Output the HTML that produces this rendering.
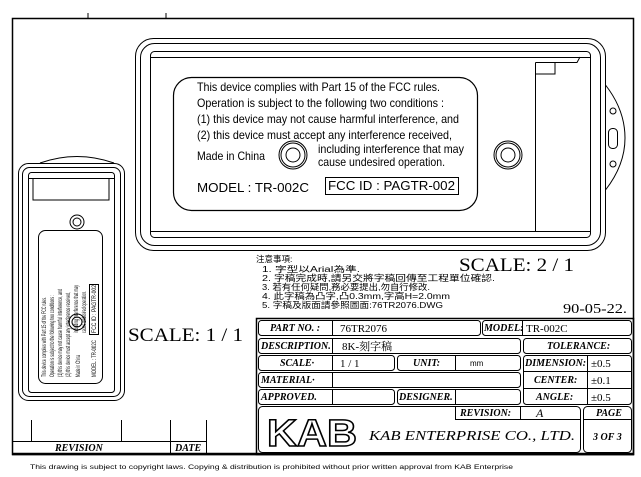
<!DOCTYPE html>
<html><head><meta charset="utf-8"><style>
html,body{margin:0;padding:0;background:#fff;}
svg{display:block;}
text{font-family:"Liberation Sans","Noto Sans CJK TC",sans-serif;fill:#000;}
.s{font-family:"Liberation Serif","Noto Serif CJK SC",serif;}
.i{font-family:"Liberation Serif",serif;font-style:italic;font-weight:bold;font-size:10px;}
</style></head><body>
<svg width="641" height="477" viewBox="0 0 641 477" xmlns="http://www.w3.org/2000/svg" fill="none" stroke="#000" stroke-width="1">
<rect x="12.5" y="18.5" width="621" height="436" stroke-width="1.5"/>
<line x1="12" y1="454" x2="634" y2="454" stroke-width="2.5"/>
<line x1="88" y1="13" x2="88" y2="18"/><line x1="166" y1="13" x2="166" y2="18"/>

<rect x="135.5" y="38.5" width="470" height="212" rx="18"/>
<rect x="140.5" y="43.5" width="460" height="202" rx="14"/>
<rect x="150.5" y="51.5" width="440" height="186" rx="4"/>
<line x1="150" y1="57.5" x2="590" y2="57.5"/>
<line x1="150" y1="231.5" x2="590" y2="231.5"/>
<path d="M535.5 62.5 H577 L580 57 M535.5 62.5 V232 M555 62.5 V74 H535" />
<path d="M605.5 85 Q625 110 625 138 Q625 165 605.5 190"/>
<circle cx="613" cy="111" r="3"/><rect x="608.5" y="128.5" width="9" height="20" rx="4"/><circle cx="613" cy="164" r="3"/>
<rect x="173.5" y="77.5" width="304" height="133" rx="18" stroke-width="1.2"/>
<circle cx="293" cy="155" r="14"/><circle cx="293" cy="155" r="12"/><circle cx="293" cy="155" r="7"/>
<circle cx="508" cy="155" r="14"/><circle cx="508" cy="155" r="12"/><circle cx="508" cy="155" r="7"/>
<g stroke="none" font-size="12">
<text x="197" y="91" textLength="243" lengthAdjust="spacingAndGlyphs">This device complies with Part 15 of the FCC rules.</text>
<text x="197" y="107" textLength="247" lengthAdjust="spacingAndGlyphs">Operation is subject to the following two conditions :</text>
<text x="197" y="123" textLength="262" lengthAdjust="spacingAndGlyphs">(1) this device may not cause harmful interference, and</text>
<text x="197" y="139" textLength="255" lengthAdjust="spacingAndGlyphs">(2) this device must accept any interference received,</text>
<text x="318" y="153" textLength="146" lengthAdjust="spacingAndGlyphs">including interference that may</text>
<text x="318" y="166" textLength="127" lengthAdjust="spacingAndGlyphs">cause undesired operation.</text>
<text x="197" y="160" textLength="68" lengthAdjust="spacingAndGlyphs">Made in China</text>
<text x="197" y="192" font-size="13" textLength="112" lengthAdjust="spacingAndGlyphs">MODEL : TR-002C</text>
<text x="328" y="190" font-size="13" textLength="127" lengthAdjust="spacingAndGlyphs">FCC ID : PAGTR-002</text>
</g>
<rect x="325.5" y="177.5" width="133" height="17"/>

<path d="M40 163 Q77 150 114 163" />
<rect x="18.5" y="163.5" width="106" height="237" rx="10"/>
<rect x="22.5" y="167.5" width="98" height="229" rx="7"/>
<rect x="28.5" y="172.5" width="86" height="220" rx="3"/>
<path d="M28 178.5 H114 M33 178.5 V200 H109 V178.5"/>
<rect x="38.5" y="230.5" width="64" height="153" rx="7"/>
<circle cx="77" cy="222" r="7"/><circle cx="77" cy="222" r="4"/>
<circle cx="77" cy="322" r="8"/><circle cx="77" cy="322" r="5"/>
<g stroke="none" font-size="6">
<g transform="translate(46,377) rotate(-90)"><text x="0" y="0" textLength="80" lengthAdjust="spacingAndGlyphs">This device complies with Part 15 of the FCC rules.</text></g>
<g transform="translate(54,377) rotate(-90)"><text x="0" y="0" textLength="82" lengthAdjust="spacingAndGlyphs">Operation is subject to the following two conditions :</text></g>
<g transform="translate(62,377) rotate(-90)"><text x="0" y="0" textLength="88" lengthAdjust="spacingAndGlyphs">(1) this device may not cause harmful interference, and</text></g>
<g transform="translate(70,377) rotate(-90)"><text x="0" y="0" textLength="85" lengthAdjust="spacingAndGlyphs">(2) this device must accept any interference received,</text></g>
<g transform="translate(80,377) rotate(-90)"><text x="0" y="0" textLength="22" lengthAdjust="spacingAndGlyphs">Made in China</text></g>
<g transform="translate(78,333) rotate(-90)"><text x="0" y="0" textLength="48" lengthAdjust="spacingAndGlyphs">including interference that may</text></g>
<g transform="translate(86,333) rotate(-90)"><text x="0" y="0" textLength="42" lengthAdjust="spacingAndGlyphs">cause undesired operation.</text></g>
<g transform="translate(96,377) rotate(-90)"><text x="0" y="0" textLength="37" lengthAdjust="spacingAndGlyphs">MODEL : TR-002C</text></g>
<g transform="translate(96,333) rotate(-90)"><text x="0" y="0" textLength="48" lengthAdjust="spacingAndGlyphs">FCC ID : PAGTR-002</text></g>
</g>
<rect x="89.5" y="284.5" width="9" height="50"/>
<line x1="31.5" y1="420" x2="31.5" y2="441"/><line x1="121.5" y1="420" x2="121.5" y2="441"/>
<line x1="170.5" y1="420" x2="170.5" y2="454"/><line x1="206.5" y1="420" x2="206.5" y2="454"/>
<line x1="12" y1="441.5" x2="206" y2="441.5"/>
<g stroke="none">
<text class="i" x="55" y="451">REVISION</text>
<text class="i" x="175" y="451">DATE</text>
<text class="s" x="128" y="341" font-size="19" textLength="115" lengthAdjust="spacingAndGlyphs">SCALE: 1 / 1</text>
<text class="s" x="459" y="271" font-size="19" textLength="115" lengthAdjust="spacingAndGlyphs">SCALE: 2 / 1</text>
<text class="s" x="563" y="313" font-size="14" textLength="64" lengthAdjust="spacingAndGlyphs">90-05-22.</text>
<g font-size="8.5">
<text x="256" y="262">注意事項:</text>
<text x="262" y="272" font-size="8" textLength="98" lengthAdjust="spacingAndGlyphs">1.   字型以Arial為準.</text>
<text x="262" y="281" textLength="233" lengthAdjust="spacingAndGlyphs">2.   字稿完成時,請另交將字稿回傳至工程單位確認.</text>
<text x="262" y="290" textLength="168" lengthAdjust="spacingAndGlyphs">3.   若有任何疑問,務必要提出,勿自行修改.</text>
<text x="262" y="299" textLength="188" lengthAdjust="spacingAndGlyphs">4.   此字稿為凸字,凸0.3mm,字高H=2.0mm</text>
<text x="262" y="308" textLength="181" lengthAdjust="spacingAndGlyphs">5.   字稿及版面請參照圖面:76TR2076.DWG</text>
</g>
</g>

<rect x="256.5" y="318.5" width="377" height="136" stroke-width="1.5"/>
<g stroke-width="1">
<rect x="258.5" y="320.5" width="222" height="15" rx="3"/><line x1="332.5" y1="320" x2="332.5" y2="336"/>
<rect x="482.5" y="320.5" width="149" height="15" rx="3"/><line x1="522.5" y1="320" x2="522.5" y2="336"/>
<rect x="258.5" y="338.5" width="262" height="15" rx="3"/><line x1="332.5" y1="338" x2="332.5" y2="354"/>
<rect x="258.5" y="355.5" width="136" height="15" rx="3"/><line x1="332.5" y1="355" x2="332.5" y2="371"/>
<rect x="397.5" y="355.5" width="123" height="15" rx="3"/><line x1="455.5" y1="355" x2="455.5" y2="371"/>
<rect x="258.5" y="372.5" width="262" height="15" rx="3"/><line x1="332.5" y1="372" x2="332.5" y2="388"/>
<rect x="258.5" y="389.5" width="136" height="15" rx="3"/><line x1="332.5" y1="389" x2="332.5" y2="405"/>
<rect x="397.5" y="389.5" width="123" height="15" rx="3"/><line x1="455.5" y1="389" x2="455.5" y2="405"/>
<rect x="523.5" y="338.5" width="108" height="15" rx="3"/>
<rect x="523.5" y="355.5" width="108" height="49" rx="3"/>
<line x1="587.5" y1="355" x2="587.5" y2="405"/>
<line x1="523" y1="371.5" x2="632" y2="371.5"/><line x1="523" y1="388.5" x2="632" y2="388.5"/>
<rect x="258.5" y="406.5" width="322" height="46" rx="4"/>
<path d="M455.5 406 V419.5 H580 M520.5 406 V420"/>
<rect x="583.5" y="406.5" width="48" height="46" rx="4"/>
<line x1="583" y1="419.5" x2="632" y2="419.5"/>
</g>
<g stroke="none">
<text class="i" x="270" y="331">PART  NO.  :</text>
<text class="s" x="340" y="332" font-size="11">76TR2076</text>
<text class="i" x="484" y="331">MODEL:</text>
<text class="s" x="526" y="332" font-size="11">TR-002C</text>
<text class="i" x="261" y="349">DESCRIPTION.</text>
<text class="s" x="342" y="350" font-size="11">8K-刻字稿</text>
<text class="i" x="547" y="349">TOLERANCE:</text>
<text class="i" x="280" y="366">SCALE·</text>
<text class="s" x="340" y="367" font-size="11">1 / 1</text>
<text class="i" x="413" y="366">UNIT:</text>
<text x="470" y="366" font-size="8">mm</text>
<text class="i" x="525" y="366">DIMENSION:</text>
<text class="s" x="591" y="367" font-size="11">±0.5</text>
<text class="i" x="261" y="383">MATERIAL·</text>
<text class="i" x="534" y="383">CENTER:</text>
<text class="s" x="591" y="384" font-size="11">±0.1</text>
<text class="i" x="261" y="400">APPROVED.</text>
<text class="i" x="399" y="400">DESIGNER.</text>
<text class="i" x="536" y="400">ANGLE:</text>
<text class="s" x="591" y="401" font-size="11">±0.5</text>
<text class="i" x="460" y="416">REVISION:</text>
<text class="s" x="536" y="417" font-size="12" font-style="italic">A</text>
<text class="i" x="596" y="416">PAGE</text>
<text class="i" x="593" y="440">3 OF 3</text>
<text x="267" y="446" font-size="38" font-weight="bold" style="fill:none;stroke:#000;stroke-width:1.5" textLength="90" lengthAdjust="spacingAndGlyphs">KAB</text>
<text class="s" x="369" y="440" font-size="14" font-style="italic" textLength="206" lengthAdjust="spacingAndGlyphs">KAB ENTERPRISE CO., LTD.</text>
<text x="30" y="469" font-size="6.6" textLength="483" lengthAdjust="spacingAndGlyphs">This drawing is subject to copyright laws. Copying &amp; distribution is prohibited without prior written approval from KAB Enterprise</text>
</g>
</svg>
</body></html>
